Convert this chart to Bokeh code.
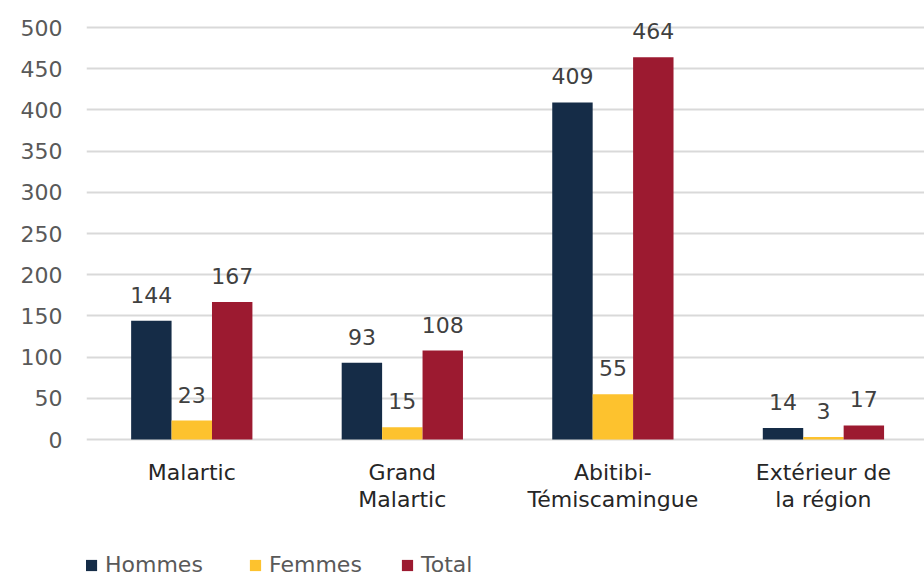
from bokeh.plotting import figure
from bokeh.models import ColumnDataSource, Range1d, FixedTicker, Legend, LegendItem
from bokeh.core.properties import value
from bokeh.embed import file_html
from bokeh.resources import INLINE

categories = ["Malartic", "Grand\nMalartic", "Abitibi-\nTémiscamingue", "Extérieur de\nla région"]
series_names = ["Hommes", "Femmes", "Total"]
hommes = [144, 93, 409, 14]
femmes = [23, 15, 55, 3]
total = [167, 108, 464, 17]
y_ticks = [0, 50, 100, 150, 200, 250, 300, 350, 400, 450, 500]

colors = ["#152C47", "#FDC22E", "#9C1A30"]
FONT = "DejaVu Sans"
FS = "22px"
bar_w = 0.192
offsets = [-bar_w, 0.0, bar_w]

# layout: 500 units span 412 px; value 0 sits 139 px above the bottom of a 578 px canvas
W, H = 924, 578
ppu = 412 / 500
zero_from_bottom = 139
y_start = -zero_from_bottom / ppu
y_end = (H - zero_from_bottom) / ppu

p = figure(width=W, height=H, output_backend="svg", toolbar_location=None,
           x_range=Range1d(-0.5, 3.48), y_range=Range1d(y_start, y_end),
           min_border_left=86, min_border_right=0, min_border_top=0, min_border_bottom=0)
p.outline_line_color = None
p.background_fill_color = "white"
p.border_fill_color = "white"

renderers = []
for vals, off, col in zip([hommes, femmes, total], offsets, colors):
    xs = [i + off for i in range(len(categories))]
    src = ColumnDataSource(dict(x=xs, top=vals, lab=[str(v) for v in vals]))
    r = p.vbar(x="x", top="top", width=bar_w, bottom=0, fill_color=col, line_color=None, source=src)
    renderers.append(r)
    p.text(x="x", y="top", text="lab", source=src, text_align="center", text_baseline="alphabetic",
           y_offset=-26, text_font=value(FONT), text_font_size=FS, text_color="#404040")

# category labels under the bars
cat_src = ColumnDataSource(dict(x=list(range(len(categories))), y=[0] * len(categories), lab=categories))
p.text(x="x", y="y", text="lab", source=cat_src, text_align="center", text_baseline="top",
       y_offset=20, text_font=value(FONT), text_font_size=FS, text_color="#262626",
       text_line_height=1.1)

# axes
p.xaxis.visible = False
p.yaxis.ticker = FixedTicker(ticks=y_ticks)
p.yaxis.axis_line_color = None
p.yaxis.major_tick_line_color = None
p.yaxis.minor_tick_line_color = None
p.yaxis.major_label_text_font = FONT
p.yaxis.major_label_text_font_size = FS
p.yaxis.major_label_text_color = "#595959"
p.yaxis.major_label_standoff = 18

p.xgrid.grid_line_color = None
p.ygrid.ticker = FixedTicker(ticks=y_ticks)
p.ygrid.grid_line_color = "#d9d9d9"
p.ygrid.grid_line_width = 2

# legend entries placed individually (x in px from the plot area's left edge)
legend_x = [-2, 162, 314]
for n, r, lx in zip(series_names, renderers, legend_x):
    lg = Legend(items=[LegendItem(label=n, renderers=[r])],
                orientation="horizontal", location=(lx, 1),
                label_text_font=FONT, label_text_font_size=FS, label_text_color="#595959",
                glyph_width=14, glyph_height=14, label_standoff=7,
                padding=0, margin=0, border_line_color=None, background_fill_alpha=0)
    p.add_layout(lg, "center")

open("out.html", "w").write(file_html(p, INLINE))
